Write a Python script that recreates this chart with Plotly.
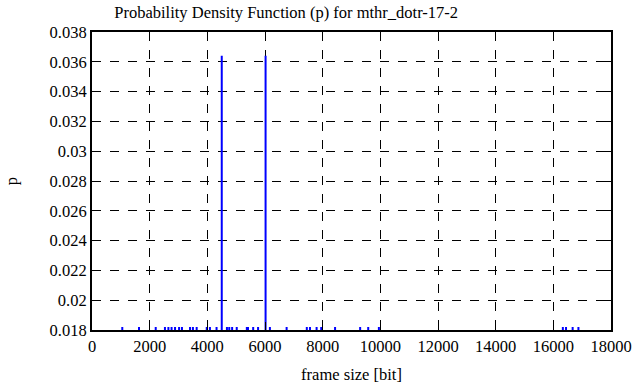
import plotly.graph_objects as go

frame_size = [1050, 1630, 2210, 2530, 2650, 2760, 2880, 3020, 3120, 3400, 3500, 3630,
              3980, 4090, 4320, 4500, 4680, 4760, 4860, 5020, 5370, 5410, 5590, 5760,
              6020, 6170, 6750, 7450, 7560, 7790, 7950, 8430, 9300, 9580, 9950,
              16330, 16440, 16670, 16870]
prob = [0.0182, 0.0182, 0.0182, 0.0182, 0.0182, 0.0182, 0.0182, 0.0182, 0.0182, 0.0182, 0.0182, 0.0182,
        0.0182, 0.0182, 0.0182, 0.0364, 0.0182, 0.0182, 0.0182, 0.0182, 0.0182, 0.0182, 0.0182, 0.0182,
        0.0364, 0.0182, 0.0182, 0.0182, 0.0182, 0.0182, 0.0182, 0.0182, 0.0182, 0.0182, 0.0182,
        0.0182, 0.0182, 0.0182, 0.0182]

xs, ys = [], []
for fx, p in zip(frame_size, prob):
    xs += [fx, fx, None]
    ys += [0, p, None]

fig = go.Figure(go.Scatter(x=xs, y=ys, mode="lines",
                           line=dict(color="#0000ff", width=2), hoverinfo="skip",
                           showlegend=False))

font = dict(family="Liberation Serif, Times New Roman, serif", size=16.5, color="black")
axis_common = dict(showline=True, linecolor="black", linewidth=2, mirror="allticks",
                   ticks="inside", ticklen=8, tickcolor="black", tickwidth=1,
                   showgrid=True, gridcolor="black", gridwidth=1, griddash="dash",
                   zeroline=False, tickfont=font, automargin=False)

fig.update_layout(
    width=636, height=387,
    margin=dict(l=92, r=25, t=32, b=57),
    paper_bgcolor="white", plot_bgcolor="white",
    font=font,
    title=dict(text="Probability Density Function (p) for mthr_dotr-17-2",
               x=0.45, xanchor="center", y=0.984, yanchor="top", font=font),
    xaxis=dict(range=[0, 18000], dtick=2000, tickformat="d",
               title=dict(text="frame size [bit]", font=font, standoff=14), **axis_common),
    yaxis=dict(range=[0.018, 0.038], dtick=0.002, tickformat="~g",
               title=dict(text="p", font=font, standoff=28), **axis_common),
)

fig.write_html("out.html", config={"displayModeBar": False},
               post_script="document.body.style.margin='0';document.body.style.overflow='hidden';")
